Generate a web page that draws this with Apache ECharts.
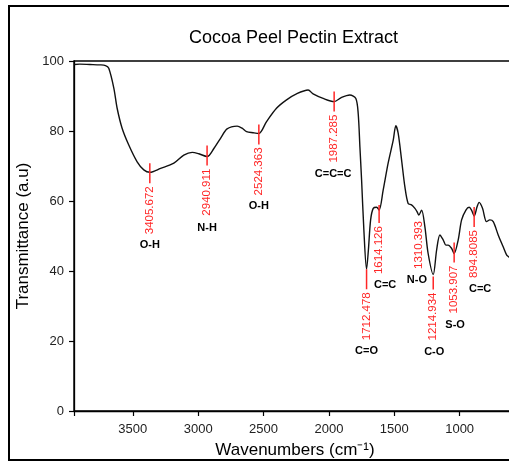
<!DOCTYPE html>
<html>
<head>
<meta charset="utf-8">
<script src="https://cdn.jsdelivr.net/npm/echarts@6/dist/echarts.min.js"></script>
<style>
html,body{margin:0;padding:0;background:#fff;}
#chart{width:509px;height:462px;}
</style>
</head>
<body>
<div id="chart"></div>
<script>
// ---- data ----
const wavenumbers = [3948, 3905, 3829, 3752, 3709, 3684, 3645, 3620, 3582, 3531, 3467, 3416, 3370, 3288, 3186, 3110, 3046, 2995, 2932, 2880, 2829, 2779, 2702, 2664, 2630, 2580, 2536, 2477, 2401, 2324, 2248, 2159, 2121, 2044, 1960, 1903, 1840, 1794, 1776, 1763, 1750, 1733, 1712, 1698, 1681, 1661, 1635, 1616, 1585, 1547, 1508, 1488, 1470, 1444, 1419, 1394, 1368, 1342, 1325, 1312, 1291, 1266, 1241, 1202, 1176, 1151, 1126, 1105, 1088, 1062, 1042, 1011, 985, 952, 927, 909, 889, 866, 851, 825, 794, 769, 743, 705, 667, 641, 623, 600];
const transmittance = [99.0, 99.1, 99.0, 98.9, 98.7, 97.9, 92.2, 86.5, 80.8, 76.0, 71.2, 68.9, 68.2, 69.3, 70.8, 73.1, 73.9, 73.5, 72.7, 75.0, 77.9, 80.6, 81.4, 80.8, 79.8, 79.5, 79.3, 82.7, 86.5, 88.9, 90.6, 91.7, 90.6, 89.3, 88.4, 89.6, 90.3, 89.3, 85.0, 75.5, 66.0, 52.0, 40.5, 46.0, 54.6, 57.9, 58.2, 57.4, 63.1, 70.8, 77.4, 81.5, 79.3, 71.7, 64.1, 59.3, 58.9, 57.9, 56.9, 56.0, 57.4, 52.7, 45.0, 39.0, 46.0, 50.3, 48.9, 47.4, 47.4, 46.5, 45.0, 48.9, 54.6, 57.4, 58.2, 57.4, 55.7, 58.4, 59.6, 57.9, 54.1, 54.6, 54.1, 50.3, 46.9, 44.6, 44.0, 43.0];
const peakPositions = [3370, 2932, 2536, 1960, 1712, 1616, 1312, 1202, 1042, 889];
const peakLabels = ['3405.672', '2940.911', '2524.363', '1987.285', '1712.478', '1614.126', '1310.393', '1214.934', '1053.907', '894.8085'];
const bondLabels = ['O-H', 'N-H', 'O-H', 'C=C=C', 'C=O', 'C=C', 'N-O', 'C-O', 'S-O', 'C=C'];
const xTicks = [1000, 1500, 2000, 2500, 3000, 3500];
const yTicks = [0, 20, 40, 60, 80, 100];

// ---- layout (pixel offsets for annotations, not data) ----
const lineTopOffset = [-9, -11, -9, -10, 0, -5, null, 2, -11, -9];
const lineLength =    [20, 20, 20, 20, 20, 18, 0, 13, 20, 20];
const bondDx =        [0, 0, 0, -1, 0, 6, -2, 1, 1, 6];

const FONT = '"Liberation Sans", Arial, sans-serif';

function interpT(w) {
  for (let i = 0; i < wavenumbers.length - 1; i++) {
    const a = wavenumbers[i], b = wavenumbers[i + 1];
    if ((w <= a && w >= b)) {
      const t = (a - w) / (a - b);
      return transmittance[i] + t * (transmittance[i + 1] - transmittance[i]);
    }
  }
  return transmittance[transmittance.length - 1];
}

const spectrum = wavenumbers.map((w, i) => [w, transmittance[i]]);
const annot = peakPositions.map(w => [w, interpT(w)]);

const chart = echarts.init(document.getElementById('chart'), null, {renderer: 'canvas'});

chart.setOption({
  animation: false,
  backgroundColor: '#fff',
  textStyle: {fontFamily: FONT},
  graphic: [
    {type: 'rect', shape: {x: 9, y: 6, width: 530, height: 454}, style: {fill: null, stroke: '#000', lineWidth: 2}, z: 100},
    {type: 'text', x: 293.5, y: 38.5, style: {text: 'Cocoa Peel Pectin Extract', font: '18px ' + FONT, fill: '#000', align: 'center', verticalAlign: 'middle'}, z: 100}
  ],
  grid: {left: 74, top: 61, right: -16, bottom: 51, show: true, borderColor: '#000', borderWidth: 1.4,
    backgroundColor: 'transparent', containLabel: false, outerBoundsMode: 'none'},
  xAxis: {
    type: 'value', inverse: true, min: 500, max: 3950, interval: 500,
    name: 'Wavenumbers (cm⁻¹)', nameLocation: 'middle', nameGap: 31,
    nameTextStyle: {fontSize: 17, color: '#000', fontFamily: FONT, padding: [0, 9, 0, 0]},
    axisLine: {show: true, lineStyle: {color: '#000', width: 1.3}},
    axisTick: {show: true, length: 5, lineStyle: {color: '#000', width: 1.2}},
    axisLabel: {margin: 12, fontSize: 13, color: '#222', fontFamily: FONT,
      formatter: v => xTicks.indexOf(v) >= 0 ? String(v) : ''},
    splitLine: {show: false}
  },
  yAxis: {
    type: 'value', min: 0, max: 100, interval: 20,
    name: 'Transmittance (a.u)', nameLocation: 'middle', nameGap: 41,
    nameTextStyle: {fontSize: 17, color: '#000', fontFamily: FONT},
    axisLine: {show: true, lineStyle: {color: '#000', width: 1.3}},
    axisTick: {show: true, length: 5, lineStyle: {color: '#000', width: 1.2}},
    axisLabel: {margin: 10, fontSize: 13, color: '#222', fontFamily: FONT,
      formatter: v => yTicks.indexOf(v) >= 0 ? String(v) : ''},
    splitLine: {show: false}
  },
  series: [
    {
      type: 'line', data: spectrum, showSymbol: false, smooth: 0.3,
      lineStyle: {color: '#111', width: 1.4}, z: 2, silent: true
    },
    {
      type: 'custom', data: annot, z: 3, silent: true,
      renderItem: function (params, api) {
        const i = params.dataIndex;
        const p = api.coord([api.value(0), api.value(1)]);
        const x = p[0], y = p[1];
        const children = [];
        let labelTop;
        if (lineTopOffset[i] !== null) {
          const y1 = y + lineTopOffset[i];
          const y2 = y1 + lineLength[i];
          children.push({type: 'line', shape: {x1: x, y1: y1, x2: x, y2: y2}, style: {stroke: '#ff2626', lineWidth: 1.5}});
          labelTop = y2 + 3;
        } else {
          labelTop = y + 6;
        }
        children.push({type: 'text', x: x, y: labelTop, rotation: Math.PI / 2,
          style: {text: peakLabels[i], font: '11.5px ' + FONT, fill: '#ff2626', align: 'right', verticalAlign: 'middle'}});
        children.push({type: 'text', x: x + bondDx[i], y: labelTop + 59,
          style: {text: bondLabels[i], font: 'bold 11px ' + FONT, fill: '#000', align: 'center', verticalAlign: 'middle'}});
        return {type: 'group', children: children};
      }
    }
  ]
});
</script>
</body>
</html>
